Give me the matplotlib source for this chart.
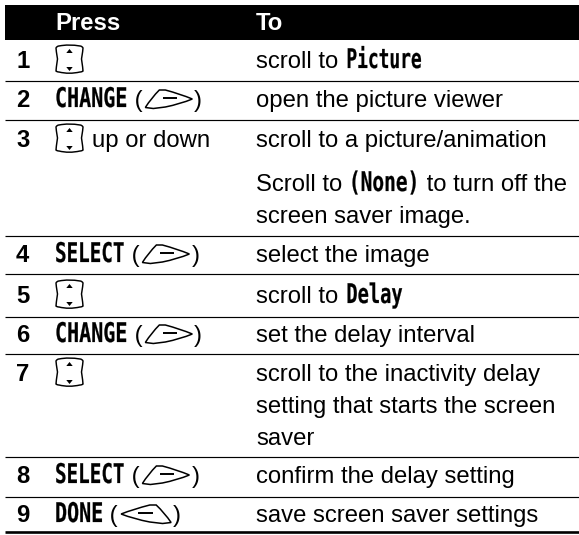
import matplotlib
matplotlib.use("Agg")
import matplotlib.pyplot as plt
import matplotlib.patheffects as pe
from matplotlib.path import Path
from matplotlib.patches import PathPatch, Rectangle
from matplotlib.transforms import Affine2D

SANS = ["Liberation Sans", "DejaVu Sans"]
MONO = ["DejaVu Sans Mono"]
FS = 17.2
KW_FS = 19.5

headers = ["Press", "To"]
step_numbers = ["1", "2", "3", "4", "5", "6", "7", "8", "9"]

# r = regular text, k = keyword font, icons: nav, right, left
press_cells = [
    [("nav", "")],
    [("k", "CHANGE"), ("r", " ("), ("right", ""), ("r", ")")],
    [("nav", ""), ("r", "up or down")],
    [("k", "SELECT"), ("r", " ("), ("right", ""), ("r", ")")],
    [("nav", "")],
    [("k", "CHANGE"), ("r", " ("), ("right", ""), ("r", ")")],
    [("nav", "")],
    [("k", "SELECT"), ("r", " ("), ("right", ""), ("r", ")")],
    [("k", "DONE"), ("r", " ("), ("left", ""), ("r", ")")],
]
to_cells = [
    [[("r", "scroll to "), ("k", "Picture")]],
    [[("r", "open the picture viewer")]],
    [[("r", "scroll to a picture/animation")],
     [("r", "Scroll to "), ("k", "(None)"), ("r", " to turn off the")],
     [("r", "screen saver image.")]],
    [[("r", "select the image")]],
    [[("r", "scroll to "), ("k", "Delay")]],
    [[("r", "set the delay interval")]],
    [[("r", "scroll to the inactivity delay")],
     [("r", "setting that starts the screen")],
     [("r", "saver")]],
    [[("r", "confirm the delay setting")]],
    [[("r", "save screen saver settings")]],
]

# layout, in pixels of the 579x535 picture
row_baselines = [68, 107, 147, 262, 303, 342, 381, 483, 522]
to_baselines = [[68], [107], [147, 191, 223], [262], [303], [342], [381, 413, 445], [483], [522]]
rule_ys = [81, 120, 236, 274, 316.5, 354, 457, 497]
num_x, press_x, to_x = 16, 55, 256
squeeze = {"CHANGE": 0.74, "SELECT": 0.71, "DONE": 0.74, "Picture": 0.66, "Delay": 0.69, "(None)": 0.72}


class Squeeze(pe.AbstractPathEffect):
    # narrows and thickens the glyphs of a text, the keyword font of the original is condensed
    def __init__(self, sx):
        super().__init__()
        self.sx = sx

    def draw_path(self, renderer, gc, tpath, affine, rgbFace=None):
        gc0 = renderer.new_gc()
        gc0.copy_properties(gc)
        gc0.set_foreground("black")
        gc0.set_linewidth(0.15)
        renderer.draw_path(gc0, tpath, Affine2D().scale(self.sx, 1) + affine, rgbFace)
        gc0.restore()


fig = plt.figure(figsize=(5.79, 5.35), dpi=100)
ax = fig.add_axes([0, 0, 1, 1])
ax.set_xlim(0, 579)
ax.set_ylim(535, 0)
ax.axis("off")
renderer = fig.canvas.get_renderer()


def text_width(s, **kw):
    t = ax.text(0, 0, s + ".", **kw)
    w1 = t.get_window_extent(renderer).width
    t.set_text(".")
    w2 = t.get_window_extent(renderer).width
    t.remove()
    return w1 - w2


def draw_nav(x, y):
    verts = [(x + 3, y - 22), (x + 13, y - 24), (x + 24, y - 22), (x + 26, y - 22),
             (x + 27, y - 20), (x + 27, y - 18), (x + 25.5, y - 9), (x + 27, y + 1),
             (x + 27, y + 3), (x + 26, y + 4), (x + 24, y + 4), (x + 13, y + 6.5),
             (x + 3, y + 4), (x + 1, y + 4), (x, y + 3), (x, y + 1),
             (x + 1.5, y - 9), (x, y - 18), (x, y - 20), (x + 1, y - 22), (x + 3, y - 22)]
    codes = [Path.MOVETO] + [Path.CURVE3] * 20
    ax.add_patch(PathPatch(Path(verts, codes), fc="white", ec="black", lw=1.05))
    cx = x + 13.5
    ax.fill([cx - 3.2, cx + 3.2, cx], [y - 15, y - 15, y - 19], color="black", lw=0)
    ax.fill([cx - 3.2, cx + 3.2, cx], [y - 1, y - 1, y + 3], color="black", lw=0)
    return 27


def draw_softkey(x, y, mirror=False):
    pts = [(0, 0.5), (6, -9), (14, -17), (20, -17), (35, -13), (47, -8),
           (35, -3), (20, 0), (8, 1.5), (0, 0.5)]
    codes = [Path.MOVETO, Path.CURVE3, Path.CURVE3, Path.LINETO, Path.CURVE3, Path.CURVE3,
             Path.CURVE3, Path.CURVE3, Path.LINETO, Path.CLOSEPOLY]
    # the left key is a bit wider in the original
    width = 50 if mirror else 47
    k = width / 47
    if mirror:
        verts = [(x + width - dx * k, y + dy) for dx, dy in pts]
    else:
        verts = [(x + dx, y + dy) for dx, dy in pts]
    ax.add_patch(PathPatch(Path(verts, codes), fc="white", ec="black", lw=1.1))
    x0, x1 = (x + 17, x + 32) if mirror else (x + 18, x + 32)
    ax.plot([x0, x1], [y - 9, y - 9], color="black", lw=1.4, solid_capstyle="butt")
    return width


def draw_spans(x, y, spans):
    for n, (kind, s) in enumerate(spans):
        if kind == "nav":
            x += draw_nav(x + 1, y) + 10
        elif kind == "right":
            x += draw_softkey(x + 3, y) + 5
        elif kind == "left":
            x += draw_softkey(x + 3, y, mirror=True) + 5
        elif kind == "k":
            if n > 0 and s != "(None)":
                x += 1.5
            kw = dict(family=MONO, fontsize=KW_FS, fontweight="bold")
            ax.text(x, y, s, va="baseline", ha="left", color="black",
                    path_effects=[Squeeze(squeeze[s])], **kw)
            x += text_width(s, **kw) * squeeze[s]
        else:
            kw = dict(family=SANS, fontsize=FS)
            ax.text(x, y, s, va="baseline", ha="left", color="black", **kw)
            x += text_width(s, **kw)


# header band
ax.add_patch(Rectangle((5, 5), 574, 35, fc="black", ec="none"))
ax.text(press_x, 30, headers[0], color="white", family=SANS, fontsize=FS, fontweight="bold", va="baseline")
ax.text(to_x, 30, headers[1], color="white", family=SANS, fontsize=FS, fontweight="bold", va="baseline")

for y in rule_ys:
    ax.plot([5, 579], [y, y], color="black", lw=0.85, solid_capstyle="butt")
ax.plot([5, 579], [532, 532], color="black", lw=1.9, solid_capstyle="butt")

for i, num in enumerate(step_numbers):
    y = row_baselines[i]
    ax.text(num_x, y, num, family=SANS, fontsize=FS, fontweight="bold", va="baseline")
    draw_spans(press_x, y, press_cells[i])
    for line, ly in zip(to_cells[i], to_baselines[i]):
        draw_spans(to_x, ly, line)

fig.savefig("out.png", dpi=100)
